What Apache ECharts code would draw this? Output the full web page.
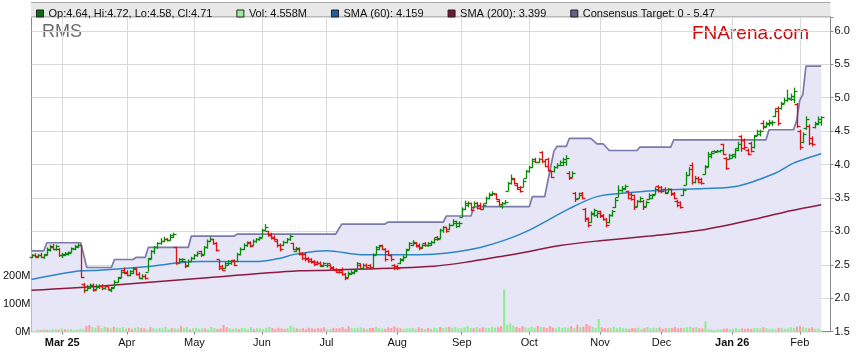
<!DOCTYPE html>
<html><head><meta charset="utf-8">
<script src="https://cdn.jsdelivr.net/npm/echarts@6/dist/echarts.min.js"></script>
<style>html,body{margin:0;padding:0;background:#fff}#c{width:859px;height:363px}</style>
</head><body><div id="c"></div>
<script>
// ---- data ----
const startDate = '2025-02-17';   // first weekday shown
const padDays = 3;                // empty weekdays after the last bar
const monthLabels = ['Mar 25','Apr','May','Jun','Jul','Aug','Sep','Oct','Nov','Dec','Jan 26','Feb'];
const priceTicks = [1.5,2.0,2.5,3.0,3.5,4.0,4.5,5.0,5.5,6.0];
const volumeTicks = [0,100,200];
const legendNames = ['Op:4.64, Hi:4.72, Lo:4.58, Cl:4.71','Vol: 4.558M','SMA (60): 4.159','SMA (200): 3.399','Consensus Target: 0 - 5.47'];

// [open, high, low, close]
const priceBars = [
[2.62,2.66,2.60,2.64],[2.64,2.67,2.61,2.63],[2.62,2.66,2.60,2.65],[2.65,2.68,2.60,2.62],[2.62,2.66,2.59,2.65],
[2.66,2.76,2.64,2.74],[2.72,2.80,2.70,2.78],[2.76,2.81,2.72,2.74],[2.74,2.80,2.71,2.78],[2.74,2.75,2.62,2.64],
[2.64,2.68,2.60,2.66],[2.65,2.69,2.63,2.67],[2.66,2.70,2.64,2.68],[2.69,2.76,2.68,2.75],[2.74,2.80,2.72,2.78],
[2.77,2.82,2.75,2.79],[2.79,2.80,2.30,2.32],[2.22,2.23,2.08,2.12],[2.13,2.20,2.11,2.18],[2.16,2.22,2.14,2.20],
[2.20,2.22,2.10,2.13],[2.14,2.21,2.12,2.19],[2.17,2.21,2.14,2.19],[2.19,2.21,2.12,2.15],[2.15,2.20,2.13,2.18],
[2.18,2.20,2.12,2.14],[2.12,2.17,2.09,2.16],[2.17,2.27,2.16,2.25],[2.25,2.32,2.23,2.30],[2.32,2.42,2.30,2.40],
[2.43,2.46,2.36,2.38],[2.40,2.42,2.33,2.35],[2.35,2.42,2.33,2.41],[2.38,2.47,2.36,2.45],[2.44,2.46,2.34,2.36],
[2.37,2.39,2.29,2.31],[2.30,2.36,2.28,2.34],[2.34,2.36,2.28,2.30],[2.40,2.60,2.40,2.58],[2.60,2.72,2.58,2.70],
[2.70,2.78,2.66,2.76],[2.76,2.84,2.74,2.82],[2.82,2.90,2.80,2.86],[2.86,2.92,2.84,2.88],[2.88,2.90,2.85,2.87],
[2.87,2.96,2.86,2.94],[2.92,2.98,2.90,2.96],[2.76,2.77,2.50,2.53],[2.53,2.60,2.52,2.58],[2.56,2.60,2.54,2.58],
[2.55,2.56,2.45,2.48],[2.49,2.58,2.47,2.56],[2.56,2.62,2.54,2.60],[2.60,2.66,2.58,2.64],[2.64,2.70,2.62,2.68],
[2.70,2.71,2.62,2.64],[2.66,2.78,2.65,2.76],[2.76,2.88,2.74,2.86],[2.86,2.92,2.84,2.89],[2.88,2.89,2.80,2.82],
[2.82,2.84,2.70,2.72],[2.58,2.58,2.42,2.46],[2.48,2.50,2.41,2.43],[2.45,2.54,2.44,2.52],[2.50,2.57,2.49,2.55],
[2.52,2.57,2.50,2.56],[2.57,2.58,2.48,2.50],[2.55,2.68,2.54,2.66],[2.66,2.76,2.64,2.74],[2.74,2.82,2.72,2.79],
[2.79,2.85,2.77,2.83],[2.84,2.85,2.76,2.78],[2.80,2.88,2.79,2.86],[2.85,2.90,2.83,2.88],[2.88,2.92,2.86,2.90],
[2.92,3.04,2.91,3.02],[3.02,3.11,3.00,3.06],[3.00,3.01,2.92,2.94],[2.96,2.98,2.88,2.90],[2.92,2.94,2.86,2.88],
[2.86,2.88,2.76,2.79],[2.80,2.82,2.70,2.73],[2.80,2.86,2.78,2.84],[2.84,2.90,2.82,2.88],[2.88,2.95,2.86,2.93],
[2.82,2.83,2.72,2.74],[2.70,2.77,2.69,2.75],[2.74,2.76,2.64,2.66],[2.68,2.69,2.57,2.60],[2.66,2.69,2.55,2.58],
[2.60,2.62,2.53,2.56],[2.58,2.60,2.52,2.54],[2.56,2.57,2.48,2.51],[2.54,2.56,2.49,2.52],[2.53,2.55,2.47,2.49],
[2.48,2.54,2.47,2.53],[2.50,2.53,2.46,2.52],[2.50,2.51,2.43,2.45],[2.47,2.48,2.41,2.43],[2.44,2.45,2.38,2.40],
[2.42,2.44,2.37,2.39],[2.42,2.46,2.34,2.36],[2.36,2.38,2.27,2.30],[2.32,2.40,2.31,2.38],[2.36,2.42,2.35,2.40],
[2.38,2.42,2.36,2.41],[2.42,2.54,2.42,2.52],[2.50,2.52,2.44,2.46],[2.45,2.52,2.44,2.50],[2.50,2.52,2.45,2.47],
[2.49,2.51,2.43,2.46],[2.47,2.67,2.45,2.64],[2.66,2.78,2.65,2.76],[2.74,2.80,2.72,2.78],[2.79,2.80,2.72,2.74],
[2.73,2.75,2.55,2.58],[2.71,2.72,2.63,2.65],[2.64,2.66,2.55,2.58],[2.50,2.51,2.42,2.46],[2.48,2.50,2.42,2.45],
[2.52,2.60,2.51,2.58],[2.57,2.64,2.55,2.62],[2.62,2.74,2.61,2.72],[2.74,2.84,2.73,2.82],[2.80,2.87,2.78,2.84],
[2.83,2.84,2.76,2.78],[2.80,2.82,2.72,2.75],[2.76,2.81,2.74,2.80],[2.82,2.84,2.77,2.79],[2.79,2.84,2.77,2.82],
[2.80,2.86,2.78,2.84],[2.84,2.90,2.82,2.88],[2.92,2.93,2.86,2.88],[2.90,3.04,2.89,3.02],[3.02,3.08,2.98,3.06],
[3.06,3.07,2.98,3.00],[3.03,3.12,3.02,3.10],[3.10,3.18,3.08,3.16],[3.12,3.16,3.05,3.12],[3.08,3.15,3.06,3.13],
[3.22,3.36,3.21,3.34],[3.34,3.46,3.32,3.42],[3.40,3.45,3.36,3.43],[3.42,3.43,3.30,3.32],[3.36,3.45,3.35,3.42],
[3.42,3.44,3.33,3.35],[3.40,3.43,3.32,3.34],[3.34,3.41,3.33,3.40],[3.42,3.52,3.41,3.50],[3.50,3.58,3.48,3.56],
[3.55,3.60,3.53,3.58],[3.56,3.57,3.47,3.49],[3.46,3.48,3.38,3.41],[3.38,3.44,3.34,3.43],[3.42,3.47,3.40,3.44],
[3.60,3.74,3.60,3.72],[3.72,3.85,3.70,3.80],[3.78,3.80,3.70,3.72],[3.70,3.72,3.62,3.64],[3.66,3.68,3.58,3.60],
[3.66,3.78,3.66,3.76],[3.80,3.92,3.79,3.90],[3.90,3.98,3.88,3.96],[3.96,4.09,3.95,4.06],[4.08,4.10,4.02,4.04],
[4.04,4.10,4.02,4.08],[4.18,4.20,4.02,4.05],[4.06,4.08,3.96,3.98],[4.08,4.10,3.90,3.92],[3.90,3.91,3.80,3.82],
[3.90,3.98,3.88,3.96],[3.96,4.02,3.94,4.00],[4.00,4.06,3.98,4.04],[4.00,4.10,3.98,4.08],[4.04,4.14,3.98,4.10],
[3.88,3.90,3.77,3.80],[3.82,3.90,3.80,3.88],[3.58,3.59,3.44,3.48],[3.50,3.58,3.49,3.55],[3.58,3.59,3.48,3.50],
[3.34,3.35,3.14,3.18],[3.20,3.21,3.06,3.10],[3.14,3.30,3.13,3.28],[3.26,3.34,3.22,3.32],[3.24,3.30,3.20,3.28],
[3.30,3.31,3.20,3.23],[3.24,3.26,3.16,3.19],[3.18,3.20,3.06,3.09],[3.14,3.26,3.12,3.24],[3.24,3.32,3.22,3.30],
[3.36,3.50,3.35,3.47],[3.52,3.69,3.51,3.62],[3.62,3.68,3.58,3.65],[3.64,3.70,3.62,3.68],[3.60,3.61,3.48,3.50],
[3.56,3.58,3.46,3.48],[3.54,3.55,3.32,3.36],[3.38,3.47,3.37,3.45],[3.45,3.52,3.43,3.50],[3.46,3.47,3.32,3.36],
[3.38,3.46,3.37,3.44],[3.48,3.57,3.47,3.54],[3.50,3.56,3.48,3.55],[3.56,3.66,3.55,3.63],[3.68,3.69,3.58,3.60],
[3.66,3.68,3.57,3.60],[3.64,3.66,3.56,3.58],[3.59,3.65,3.58,3.63],[3.63,3.64,3.53,3.56],[3.58,3.59,3.48,3.50],
[3.46,3.47,3.36,3.39],[3.44,3.45,3.34,3.36],[3.54,3.64,3.53,3.62],[3.70,3.89,3.69,3.85],[3.84,3.96,3.83,3.93],
[4.00,4.03,3.70,3.74],[3.74,3.83,3.72,3.80],[3.80,3.82,3.72,3.74],[3.78,3.80,3.70,3.72],[3.86,3.99,3.85,3.97],
[3.98,4.19,3.96,4.16],[4.12,4.19,4.09,4.17],[4.20,4.21,4.18,4.20],[4.19,4.22,4.18,4.20],[4.20,4.22,4.18,4.21],
[4.30,4.31,4.14,4.16],[4.10,4.11,3.92,3.95],[4.08,4.16,4.07,4.14],[4.10,4.16,4.09,4.15],[4.12,4.24,4.09,4.22],
[4.24,4.34,4.20,4.30],[4.42,4.44,4.19,4.24],[4.36,4.39,4.22,4.26],[4.22,4.24,4.14,4.16],[4.32,4.34,4.18,4.20],
[4.26,4.44,4.24,4.42],[4.44,4.52,4.43,4.50],[4.46,4.52,4.42,4.50],[4.62,4.66,4.52,4.56],[4.58,4.64,4.56,4.62],
[4.60,4.67,4.57,4.64],[4.62,4.66,4.58,4.63],[4.72,4.84,4.71,4.80],[4.84,4.87,4.58,4.62],[4.84,4.94,4.82,4.90],
[4.92,5.00,4.91,4.97],[4.96,5.12,4.94,5.00],[4.98,5.06,4.95,5.02],[4.98,5.15,4.92,5.10],[4.90,4.92,4.55,4.58],
[4.50,4.52,4.22,4.26],[4.34,4.48,4.32,4.46],[4.54,4.72,4.52,4.68],[4.58,4.60,4.29,4.32],[4.40,4.42,4.27,4.30],
[4.56,4.64,4.54,4.62],[4.60,4.72,4.59,4.68],[4.64,4.72,4.58,4.71]
];

// volume, millions
const volumes = [
8,6,9,7,6,10,9,7,12,9,
8,9,6,8,11,9,20,
24,17,14,22,13,19,15,12,18,14,13,17,11,14,
10,14,17,13,12,9,16,13,10,14,12,17,9,13,12,
10,20,13,16,9,12,14,10,13,12,9,17,13,10,12,
24,16,12,10,13,9,14,12,10,16,9,13,12,10,14,
17,13,10,14,12,9,13,22,16,12,10,13,9,14,12,
10,13,12,16,9,10,14,12,13,17,10,20,13,12,14,
16,12,10,13,14,18,13,12,10,16,13,20,14,12,10,
13,12,14,10,16,12,9,13,10,14,12,17,13,16,18,
14,17,12,13,16,20,14,13,17,12,16,14,13,18,14,
16,20,152,25,30,22,17,14,20,16,13,18,14,21,17,
16,13,20,14,12,17,13,16,14,20,13,25,16,18,28,
22,17,14,46,16,13,12,14,17,13,16,12,14,10,13,
12,14,10,13,17,12,14,13,16,10,12,14,13,17,12,
14,13,16,18,14,17,13,12,37,10,8,6,9,8,11,
12,9,10,13,9,12,10,12,10,13,14,12,16,13,10,
12,9,14,13,10,12,16,13,18,20,17,13,12,16,10,12,5
];

// [bar index, value] points
const sma60Points = [[0,2.28],[16,2.41],[22,2.42],[39,2.48],[48,2.53],[55,2.55],[74,2.55],[81,2.60],[86,2.66],
  [96,2.71],[108,2.65],[118,2.65],[131,2.66],[139,2.70],[146,2.76],[154,2.87],[162,3.02],[175,3.34],[184,3.52],
  [195,3.58],[206,3.62],[219,3.64],[230,3.68],[242,3.87],[248,4.02],[257,4.16]];
const sma200Points = [[0,2.12],[22,2.18],[55,2.30],[87,2.41],[97,2.42],[131,2.48],[143,2.55],[152,2.62],
  [162,2.70],[172,2.79],[185,2.86],[201,2.93],[218,3.02],[237,3.20],[247,3.31],[257,3.40]];
// consensus target: corner points of the stepped line
const targetPoints = [[0,2.71],[4,2.71],[5,2.83],[16,2.83],[18,2.46],[26,2.46],[27,2.58],[33,2.58],[34,2.61],
  [37,2.61],[38,2.76],[51,2.76],[52,2.93],[66,2.93],[67,2.96],[99,2.96],[100,3.04],[101,3.11],[115,3.11],
  [116,3.14],[134,3.14],[135,3.23],[143,3.23],[144,3.37],[162,3.37],[163,3.52],[167,3.52],[168,3.75],
  [170,4.20],[171,4.27],[174,4.27],[175,4.39],[182,4.39],[184,4.31],[186,4.31],[188,4.21],[197,4.21],
  [198,4.26],[208,4.26],[209,4.37],[239,4.37],[240,4.52],[248,4.52],[249,4.66],[250,4.96],[251,5.05],
  [252,5.47],[257,5.47]];

// ---- build chart ----
const FONT = 'Liberation Sans, Arial, sans-serif';
function weekdays(start, n) {
  const out = []; const d = new Date(start + 'T00:00:00Z');
  while (out.length < n) { const w = d.getUTCDay(); if (w !== 0 && w !== 6) out.push(d.toISOString().slice(0,10)); d.setUTCDate(d.getUTCDate()+1); }
  return out;
}
const dates = weekdays(startDate, priceBars.length + padDays);
const labelAt = {};
let m = 0;
for (let i = 1; i < dates.length; i++) {
  if (dates[i].slice(5,7) !== dates[i-1].slice(5,7) && m < monthLabels.length) labelAt[i] = monthLabels[m++];
}
const isTick = (i) => labelAt[i] !== undefined;

const ohlcData = priceBars.map((b, i) => [i, b[0], b[1], b[2], b[3]]);
const volData = volumes.map((v, i) => ({
  value: v,
  itemStyle: { color: priceBars[i][3] >= priceBars[i][0] ? '#90ec90' : '#ff9a9a' }
}));

const L = 31.5, R = 28.5, B = 31.3, T = 17;
const chart = echarts.init(document.getElementById('c'), null, { renderer: 'canvas' });
chart.setOption({
  animation: false,
  backgroundColor: '#fff',
  textStyle: { fontFamily: FONT },
  grid: [
    { left: L, right: R, top: T, bottom: B, show: true, borderColor: '#8c8c8c', borderWidth: 1, backgroundColor: '#fff' },
    { left: L, right: R, bottom: B, height: 55.4 }
  ],
  legend: {
    left: 31, top: 3, itemWidth: 7, itemHeight: 7, itemGap: 24, icon: 'rect', selectedMode: false,
    textStyle: { fontSize: 11, color: '#111', fontFamily: FONT },
    data: [
      { name: legendNames[0], itemStyle: { color: '#0a6e0a', borderColor: '#222', borderWidth: 1 } },
      { name: legendNames[1], itemStyle: { color: '#9af09a', borderColor: '#222', borderWidth: 1 } },
      { name: legendNames[2], itemStyle: { color: '#1f5f9f', borderColor: '#222', borderWidth: 1 } },
      { name: legendNames[3], itemStyle: { color: '#7a1034', borderColor: '#222', borderWidth: 1 } },
      { name: legendNames[4], itemStyle: { color: '#62628e', borderColor: '#222', borderWidth: 1 } }
    ]
  },
  graphic: [
    { type: 'rect', z: -10, shape: { x: 31, y: 2.5, width: 799.5, height: 14.5 }, style: { fill: '#e8e8e8', stroke: null } },
    { type: 'line', z: -9, shape: { x1: 31, y1: 2.5, x2: 830.5, y2: 2.5 }, style: { stroke: '#a8a8a8', lineWidth: 1 } },
    { type: 'text', left: 42, top: 23, style: { text: 'RMS', fill: '#6b6b6b', font: '18px ' + FONT } },
    { type: 'text', left: 692, top: 24, style: { text: 'FNArena.com', fill: '#cc0a0a', font: '19px ' + FONT } }
  ],
  xAxis: [
    {
      type: 'category', gridIndex: 0, data: dates, boundaryGap: false,
      axisLine: { lineStyle: { color: '#8c8c8c' } },
      axisTick: { interval: isTick, length: 3, lineStyle: { color: '#8c8c8c' } },
      axisLabel: {
        interval: isTick, margin: 6, color: '#111', fontSize: 11, fontFamily: FONT,
        formatter: (v, i) => { const t = labelAt[i] || ''; return t.indexOf(' ') > 0 ? '{b|' + t + '}' : t; },
        rich: { b: { fontWeight: 'bold', fontSize: 11, fontFamily: FONT, color: '#111' } }
      },
      splitLine: { show: true, interval: isTick, lineStyle: { color: '#dadada' } }
    },
    { type: 'category', gridIndex: 1, data: dates, boundaryGap: false, show: false }
  ],
  yAxis: [
    {
      type: 'value', gridIndex: 0, position: 'right', min: priceTicks[0], max: 6.206, interval: 0.5,
      axisLine: { show: true, lineStyle: { color: '#8c8c8c' } },
      axisTick: { show: true, length: 3, lineStyle: { color: '#8c8c8c' } },
      axisLabel: { margin: 4, color: '#111', fontSize: 11, fontFamily: FONT,
        formatter: (v) => priceTicks.some(t => Math.abs(t - v) < 1e-6) ? v.toFixed(1) : '' },
      splitLine: { show: true, lineStyle: { color: '#dadada' } }
    },
    {
      type: 'value', gridIndex: 1, position: 'left', min: volumeTicks[0], max: volumeTicks[volumeTicks.length-1], interval: 100,
      axisLine: { show: true, lineStyle: { color: '#8c8c8c' } },
      axisTick: { show: true, length: 3, lineStyle: { color: '#8c8c8c' } },
      axisLabel: { margin: 7, color: '#111', fontSize: 11, fontFamily: FONT, formatter: (v) => v + 'M' },
      splitLine: { show: false }
    }
  ],
  series: [
    {
      name: legendNames[4], type: 'line', xAxisIndex: 0, yAxisIndex: 0, z: 1,
      data: targetPoints, symbol: 'none',
      lineStyle: { color: '#7a7aaa', width: 1.7 },
      itemStyle: { color: '#62628e' },
      areaStyle: { color: '#e6e6f6', opacity: 1, origin: 'start' }
    },
    {
      name: legendNames[1], type: 'bar', xAxisIndex: 1, yAxisIndex: 1, z: 3,
      data: volData, barWidth: 2, itemStyle: { color: '#9af09a' }
    },
    {
      name: legendNames[3], type: 'line', xAxisIndex: 0, yAxisIndex: 0, z: 4,
      data: sma200Points, symbol: 'none', smooth: 0.3,
      lineStyle: { color: '#8a1a40', width: 1.5 }, itemStyle: { color: '#7a1034' }
    },
    {
      name: legendNames[2], type: 'line', xAxisIndex: 0, yAxisIndex: 0, z: 4,
      data: sma60Points, symbol: 'none', smooth: 0.3,
      lineStyle: { color: '#2c86c6', width: 1.5 }, itemStyle: { color: '#1f5f9f' }
    },
    {
      name: legendNames[0], type: 'custom', xAxisIndex: 0, yAxisIndex: 0, z: 5,
      data: ohlcData, encode: { x: 0, y: [1, 2, 3, 4] },
      itemStyle: { color: '#0a6e0a' },
      renderItem: (params, api) => {
        const i = api.value(0), o = api.value(1), h = api.value(2), l = api.value(3), c = api.value(4);
        const pH = api.coord([i, h]), pL = api.coord([i, l]), pO = api.coord([i, o]), pC = api.coord([i, c]);
        const x = Math.round(pH[0]) + 0.5;
        const col = c >= o ? '#0a8a0a' : '#dd1111';
        const st = { stroke: col, lineWidth: 1.3 };
        const yo = Math.round(pO[1]) + 0.5, yc = Math.round(pC[1]) + 0.5;
        return { type: 'group', children: [
          { type: 'line', shape: { x1: x, y1: pH[1], x2: x, y2: pL[1] }, style: st },
          { type: 'line', shape: { x1: x - 3, y1: yo, x2: x, y2: yo }, style: st },
          { type: 'line', shape: { x1: x, y1: yc, x2: x + 3, y2: yc }, style: st }
        ] };
      }
    }
  ]
});
</script>
</body></html>
